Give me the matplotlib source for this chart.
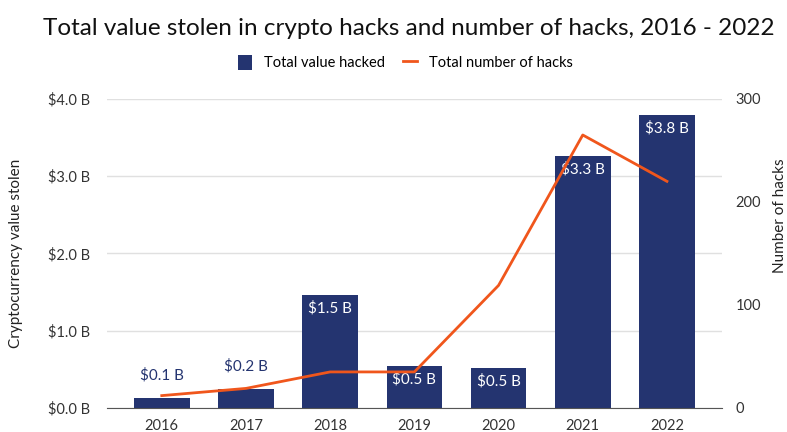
import numpy as np
import matplotlib.pyplot as plt

plt.rcParams['font.family'] = ['Lato', 'DejaVu Sans']

years = ['2016', '2017', '2018', '2019', '2020', '2021', '2022']
value_hacked = [0.13, 0.24, 1.46, 0.54, 0.52, 3.26, 3.79]  # billions USD
value_labels = ['$0.1 B', '$0.2 B', '$1.5 B', '$0.5 B', '$0.5 B', '$3.3 B', '$3.8 B']
num_hacks = [12, 19, 35, 35, 119, 265, 220]

navy = '#243470'
orange = '#f0561c'

fig = plt.figure(figsize=(7.87, 4.32), dpi=100)
ax = fig.add_axes([0.136, 0.0556, 0.781, 0.7154])
ax2 = ax.twinx()

x = np.arange(len(years))
bars = ax.bar(x, value_hacked, width=0.66, color=navy, zorder=2, label='Total value hacked')
line, = ax2.plot(x, num_hacks, color=orange, lw=2, zorder=3, label='Total number of hacks')

ax.set_xlim(-0.65, 6.65)
ax.set_ylim(0, 4)
ax2.set_ylim(0, 300)
ax.set_yticks([0, 1, 2, 3, 4])
ax.set_yticklabels(['$0.0 B', '$1.0 B', '$2.0 B', '$3.0 B', '$4.0 B'])
ax2.set_yticks([0, 100, 200, 300])
ax.set_xticks(x)
ax.set_xticklabels(years)

ax.grid(axis='y', color='#e0e0e0', lw=1, zorder=0)
for a in (ax, ax2):
    for s in ['top', 'left', 'right']:
        a.spines[s].set_visible(False)
    a.tick_params(length=0, labelsize=10.5, colors='#333333')
ax2.spines['bottom'].set_visible(False)
ax.spines['bottom'].set_color('#555555')
ax.tick_params(axis='x', pad=8)
ax.tick_params(axis='y', pad=12)
ax2.tick_params(axis='y', pad=10)

for i, (v, lab) in enumerate(zip(value_hacked, value_labels)):
    if v < 0.4:
        ax.text(i, v + 0.2, lab, ha='center', va='bottom', color=navy, fontsize=11, zorder=4)
    else:
        ax.text(i, v - 0.08, lab, ha='center', va='top', color='white', fontsize=11, zorder=4)

ax.set_ylabel('Cryptocurrency value stolen', fontsize=11, color='#222222', labelpad=18)
fig.text(1.0, 0.5, 'Number of hacks', rotation=90, ha='right', va='center', fontsize=11, color='#222222')

fig.text(0.52, 0.935, 'Total value stolen in crypto hacks and number of hacks, 2016 - 2022',
         ha='center', va='center', fontsize=17.5, color='#111111')
fig.legend(handles=[bars, line], loc='center', bbox_to_anchor=(0.515, 0.855), ncol=2,
           frameon=False, fontsize=10.5, handlelength=1.0, handleheight=1.2, columnspacing=1.2)

fig.savefig('out.png', dpi=100)
